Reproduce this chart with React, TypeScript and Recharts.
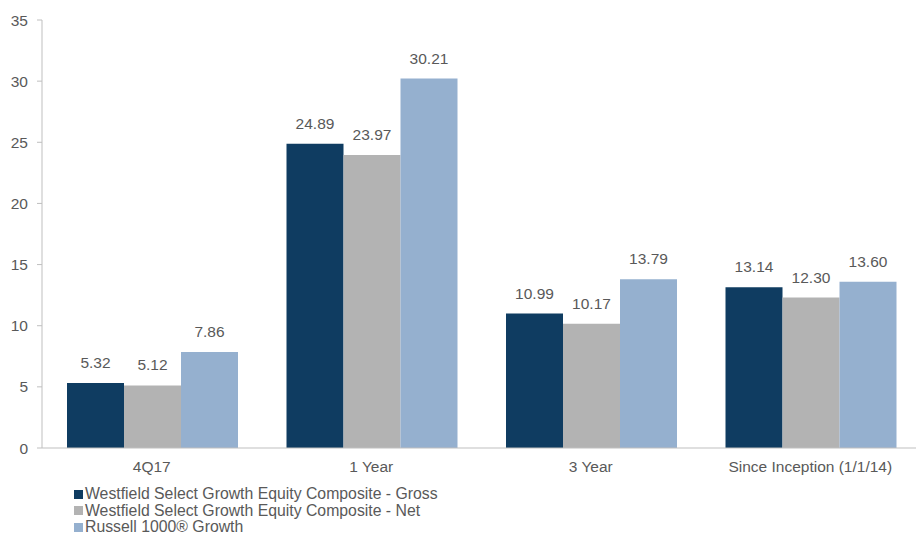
import { BarChart, Bar, XAxis, YAxis, LabelList, Legend } from 'recharts';

const periods = ['4Q17', '1 Year', '3 Year', 'Since Inception (1/1/14)'];
const gross = [5.32, 24.89, 10.99, 13.14];
const net = [5.12, 23.97, 10.17, 12.3];
const russell = [7.86, 30.21, 13.79, 13.6];
const yTicks = [0, 5, 10, 15, 20, 25, 30, 35];
const bandEdges = [0, 1, 2, 3, 4];
const seriesNames = [
  'Westfield Select Growth Equity Composite - Gross',
  'Westfield Select Growth Equity Composite - Net',
  'Russell 1000® Growth',
];

const data = periods.map((period, i) => ({
  period,
  gross: gross[i],
  net: net[i],
  russell: russell[i],
}));

const font = 'Arial, "Liberation Sans", sans-serif';
const textColor = '#595959';
const axisColor = '#bfbfbf';
const labelStyle = { fill: textColor, fontSize: 15.5, fontFamily: font };

const renderLegend = (props: any) => {
  const items = [...props.payload].sort(
    (a: any, b: any) => seriesNames.indexOf(a.value) - seriesNames.indexOf(b.value)
  );
  return (
    <div style={{ paddingLeft: 74, paddingTop: 1, fontFamily: font, fontSize: 15.8, color: textColor }}>
      {items.map((entry: any) => (
        <div key={entry.value} style={{ display: 'flex', alignItems: 'center', height: 16.5, whiteSpace: 'nowrap' }}>
          <span style={{ width: 9, height: 9, background: entry.color, marginRight: 2, display: 'inline-block' }} />
          <span>{entry.value}</span>
        </div>
      ))}
    </div>
  );
};

const fmt = (v: any) => Number(v).toFixed(2);

export default function App() {
  return (
    <div style={{ position: 'absolute', left: 0, top: 0, width: 916, height: 533, overflow: 'hidden', background: '#fff' }}>
      <BarChart
        width={920}
        height={533}
        data={data}
        margin={{ top: 20, right: 0, bottom: 1, left: 0 }}
        barCategoryGap={25}
        barGap={0}
      >
        <XAxis
          xAxisId="edges"
          type="number"
          domain={[0, 4]}
          ticks={bandEdges}
          tick={false}
          axisLine={false}
          tickLine={{ stroke: axisColor }}
          tickSize={5}
          height={6}
        />
        <XAxis
          xAxisId="cat"
          dataKey="period"
          axisLine={{ stroke: axisColor }}
          tickLine={false}
          tick={labelStyle}
          tickMargin={7}
          height={31}
        />
        <YAxis
          domain={[0, 35]}
          ticks={yTicks}
          width={42}
          axisLine={{ stroke: axisColor }}
          tickLine={{ stroke: axisColor }}
          tickSize={5}
          tickMargin={9}
          tick={labelStyle}
        />
        <Legend verticalAlign="bottom" align="left" height={47} content={renderLegend} />
        <Bar xAxisId="cat" dataKey="gross" name={seriesNames[0]} fill="#0f3c61" isAnimationActive={false}>
          <LabelList dataKey="gross" position="top" offset={15} formatter={fmt} style={labelStyle} />
        </Bar>
        <Bar xAxisId="cat" dataKey="net" name={seriesNames[1]} fill="#b3b3b3" isAnimationActive={false}>
          <LabelList dataKey="net" position="top" offset={15} formatter={fmt} style={labelStyle} />
        </Bar>
        <Bar xAxisId="cat" dataKey="russell" name={seriesNames[2]} fill="#95b0cf" isAnimationActive={false}>
          <LabelList dataKey="russell" position="top" offset={15} formatter={fmt} style={labelStyle} />
        </Bar>
      </BarChart>
    </div>
  );
}
